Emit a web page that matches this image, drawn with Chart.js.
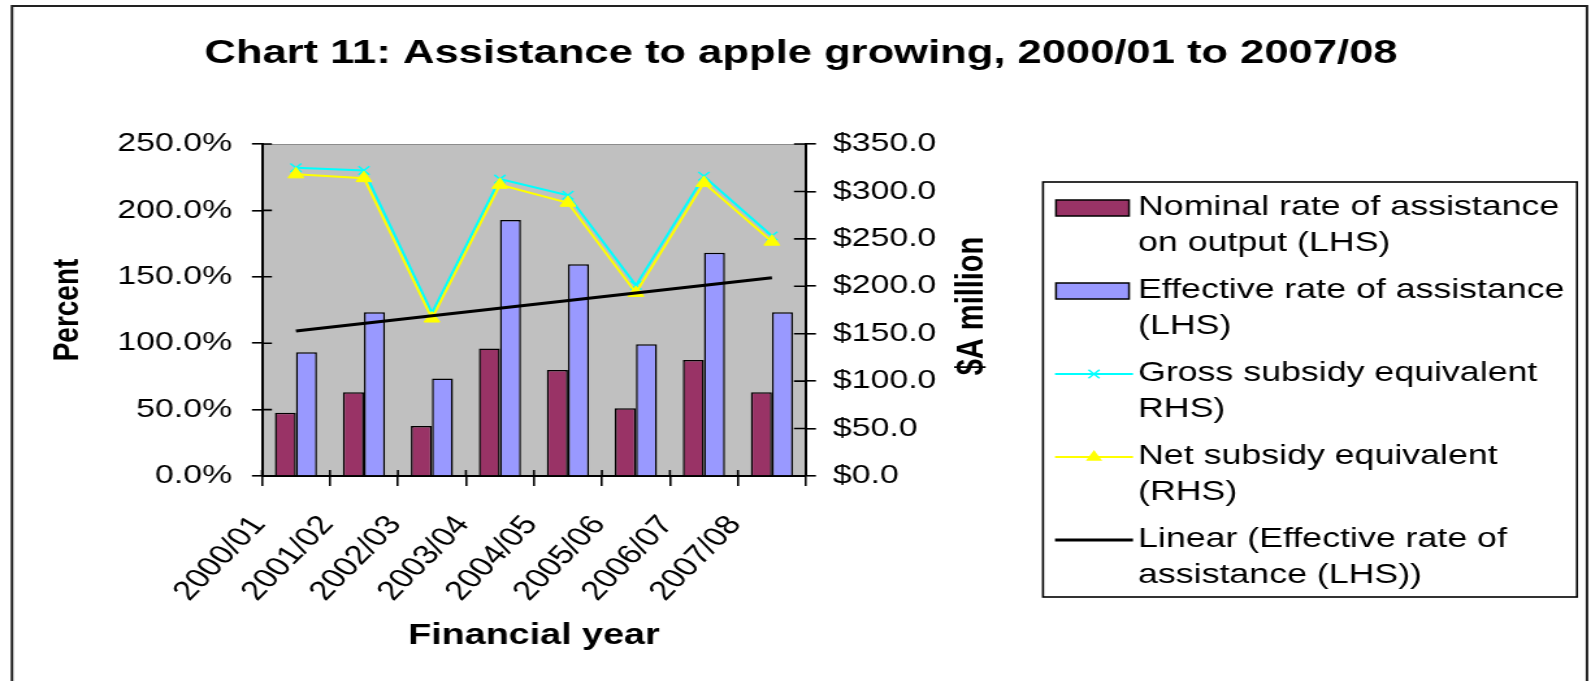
<!DOCTYPE html>
<html>
<head>
<meta charset="utf-8">
<title>Chart 11</title>
<script src="https://cdn.jsdelivr.net/npm/chart.js@4/dist/chart.umd.min.js"></script>
<style>
  body { margin: 0; background: #fff; overflow: hidden; }
  #wrap { width: 1224px; height: 681px; transform: scaleX(1.29984); transform-origin: 0 0; }
</style>
</head>
<body>
<div id="wrap"><canvas id="myChart" width="1224" height="681"></canvas></div>
<script>
const chartTitle = "Chart 11: Assistance to apple growing, 2000/01 to 2007/08";
const years = ["2000/01", "2001/02", "2002/03", "2003/04", "2004/05", "2005/06", "2006/07", "2007/08"];

// percent, left axis
const nominalRate = [47.7, 63.0, 37.6, 96.1, 79.8, 51.0, 87.3, 63.0];
const effectiveRate = [93.1, 123.3, 73.5, 192.8, 159.4, 99.2, 168.2, 123.3];
// $A million, right axis
const grossSubsidy = [325, 322, 172, 313, 296, 201, 316, 253];
const netSubsidy = [318, 314, 166, 307, 288, 193, 309, 247];
// ends of the linear trend of the effective rate
const trendStart = 109.2;
const trendEnd = 149.3;

const seriesNames = [
  "Nominal rate of assistance on output (LHS)",
  "Effective rate of assistance (LHS)",
  "Gross subsidy equivalent RHS)",
  "Net subsidy equivalent (RHS)",
  "Linear (Effective rate of assistance (LHS))",
];
const legendLines = [
  ["Nominal rate of assistance", "on output (LHS)"],
  ["Effective rate of assistance", "(LHS)"],
  ["Gross subsidy equivalent", "RHS)"],
  ["Net subsidy equivalent", "(RHS)"],
  ["Linear (Effective rate of", "assistance (LHS))"],
];

const FONT = "'Liberation Sans', Arial, Helvetica, sans-serif";
// the picture is stretched sideways, so everything is drawn narrower and scaled by css
const SX = 1591 / 1224;
const cx = (px) => px / SX;

Chart.defaults.font.family = FONT;
Chart.defaults.color = "#000";

const drawMarker = (ctx, style, x, y, color) => {
  ctx.save();
  ctx.strokeStyle = color;
  ctx.fillStyle = color;
  ctx.lineWidth = 1.5;
  if (style === "crossRot") {
    const r = 6;
    ctx.beginPath();
    ctx.moveTo(x - r * 0.7, y - r * 0.7);
    ctx.lineTo(x + r * 0.7, y + r * 0.7);
    ctx.moveTo(x - r * 0.7, y + r * 0.7);
    ctx.lineTo(x + r * 0.7, y - r * 0.7);
    ctx.stroke();
  } else if (style === "triangle") {
    const r = 7;
    ctx.beginPath();
    ctx.moveTo(x, y - r);
    ctx.lineTo(x + r * 0.9, y + r * 0.55);
    ctx.lineTo(x - r * 0.9, y + r * 0.55);
    ctx.closePath();
    ctx.fill();
  }
  ctx.restore();
};

const decorations = {
  id: "decorations",
  beforeDraw: (chart) => {
    const { ctx, chartArea: a } = chart;
    ctx.save();
    ctx.fillStyle = "#c0c0c0";
    ctx.fillRect(a.left, a.top, a.right - a.left, a.bottom - a.top);
    ctx.strokeStyle = "#8c8c8c";
    ctx.lineWidth = 1;
    ctx.beginPath();
    ctx.moveTo(a.left, a.top + 0.5);
    ctx.lineTo(a.right, a.top + 0.5);
    ctx.stroke();
    ctx.restore();
  },
  afterDraw: (chart) => {
    const { ctx, chartArea: a, scales } = chart;
    ctx.save();

    // inner halves of the tick marks
    ctx.strokeStyle = "#000";
    ctx.lineWidth = 1.6;
    ctx.beginPath();
    scales.y.ticks.forEach((t) => {
      const py = scales.y.getPixelForValue(t.value);
      ctx.moveTo(a.left, py);
      ctx.lineTo(a.left + 7.7, py);
    });
    scales.y1.ticks.forEach((t) => {
      const py = scales.y1.getPixelForValue(t.value);
      ctx.moveTo(a.right - 9.2, py);
      ctx.lineTo(a.right, py);
    });
    const step = scales.x.getPixelForValue(1) - scales.x.getPixelForValue(0);
    for (let i = 0; i <= years.length; i++) {
      const px = scales.x.getPixelForValue(0) - step / 2 + i * step;
      ctx.moveTo(px, a.bottom);
      ctx.lineTo(px, a.bottom - 6);
    }
    ctx.stroke();

    // title
    ctx.fillStyle = "#000";
    ctx.textAlign = "center";
    ctx.textBaseline = "middle";
    ctx.font = `bold 33.5px ${FONT}`;
    ctx.fillText(chartTitle, cx(801), 54);

    // right axis title, reading upwards
    ctx.save();
    ctx.translate(cx(972), 306);
    ctx.rotate(-Math.PI / 2);
    ctx.font = `bold 29px ${FONT}`;
    ctx.fillText("$A million", 0, 0);
    ctx.restore();

    // outer frame
    ctx.lineWidth = 2;
    ctx.strokeStyle = "#222";
    ctx.strokeRect(cx(12), 6, cx(1587) - cx(12), 700);

    // legend
    const boxL = cx(1043);
    const boxR = cx(1577);
    ctx.lineWidth = 1.6;
    ctx.strokeStyle = "#000";
    ctx.strokeRect(boxL, 182, boxR - boxL, 597 - 182);
    ctx.font = `27.5px ${FONT}`;
    ctx.textAlign = "left";
    chart.data.datasets.forEach((ds, i) => {
      const y0 = 207 + i * 83;
      if (ds.type === "bar") {
        ctx.fillStyle = ds.backgroundColor;
        ctx.fillRect(cx(1056), y0 - 7, cx(1129) - cx(1056), 16);
        ctx.lineWidth = 1.5;
        ctx.strokeStyle = "#000";
        ctx.strokeRect(cx(1056), y0 - 7, cx(1129) - cx(1056), 16);
      } else {
        ctx.strokeStyle = ds.borderColor;
        ctx.lineWidth = ds.borderWidth;
        ctx.beginPath();
        ctx.moveTo(cx(1055), y0 + 1);
        ctx.lineTo(cx(1133), y0 + 1);
        ctx.stroke();
        if (ds.pointRadius > 0) {
          drawMarker(ctx, ds.pointStyle, cx(1094), y0 + 1, ds.pointBorderColor);
        }
      }
      ctx.fillStyle = "#000";
      legendLines[i].forEach((line, j) => {
        ctx.fillText(line, cx(1138), y0 + j * 36);
      });
    });
    ctx.restore();
  },
};

const ctx = document.getElementById("myChart").getContext("2d");
const myChart = new Chart(ctx, {
  type: "bar",
  data: {
    labels: years,
    datasets: [
      {
        type: "bar",
        label: seriesNames[0],
        data: nominalRate,
        backgroundColor: "#993366",
        borderColor: "#000",
        borderWidth: 1.5,
        yAxisID: "y",
        order: 10,
      },
      {
        type: "bar",
        label: seriesNames[1],
        data: effectiveRate,
        backgroundColor: "#9999ff",
        borderColor: "#000",
        borderWidth: 1.5,
        yAxisID: "y",
        order: 10,
      },
      {
        type: "line",
        label: seriesNames[2],
        data: grossSubsidy,
        borderColor: "#00ffff",
        borderWidth: 2,
        pointStyle: "crossRot",
        pointRadius: 6,
        pointBorderWidth: 1.5,
        pointBorderColor: "#00ffff",
        pointBackgroundColor: "#00ffff",
        tension: 0,
        yAxisID: "y1",
        order: 3,
      },
      {
        type: "line",
        label: seriesNames[3],
        data: netSubsidy,
        borderColor: "#ffff00",
        borderWidth: 2,
        pointStyle: "triangle",
        pointRadius: 7,
        pointBorderWidth: 1,
        pointBorderColor: "#ffff00",
        pointBackgroundColor: "#ffff00",
        tension: 0,
        yAxisID: "y1",
        order: 2,
      },
      {
        type: "line",
        label: seriesNames[4],
        data: [
          { x: years[0], y: trendStart },
          { x: years[years.length - 1], y: trendEnd },
        ],
        borderColor: "#000",
        borderWidth: 3,
        pointRadius: 0,
        tension: 0,
        yAxisID: "y",
        order: 1,
      },
    ],
  },
  options: {
    responsive: false,
    animation: false,
    devicePixelRatio: 1,
    layout: {
      padding: { top: 144, left: 31.5, right: 455.7, bottom: 0 },
    },
    datasets: {
      bar: { categoryPercentage: 0.62, barPercentage: 1 },
    },
    plugins: {
      legend: { display: false },
      title: { display: false },
      tooltip: { enabled: false },
    },
    scales: {
      x: {
        offset: true,
        afterFit: (scale) => {
          scale.height = 205;
        },
        border: { color: "#000", width: 2 },
        grid: {
          offset: true,
          drawOnChartArea: false,
          color: "#000",
          lineWidth: 1.6,
          tickLength: 10,
        },
        ticks: {
          autoSkip: false,
          minRotation: 52.4,
          maxRotation: 52.4,
          labelOffset: -28.5,
          padding: 24,
          font: { size: 27 },
        },
        title: {
          display: true,
          text: "Financial year",
          font: { size: 29, weight: "bold" },
          padding: { top: 0, bottom: 28 },
        },
      },
      y: {
        position: "left",
        min: 0,
        max: 250,
        afterFit: (scale) => {
          scale.width = 170;
        },
        border: { color: "#000", width: 2 },
        grid: {
          drawOnChartArea: false,
          color: "#000",
          lineWidth: 1.6,
          tickLength: 7.7,
        },
        ticks: {
          stepSize: 50,
          padding: 15.3,
          font: { size: 26 },
          callback: (v) => v.toFixed(1) + "%",
        },
        title: {
          display: true,
          text: "Percent",
          font: { size: 28, weight: "bold" },
          padding: { top: 4, bottom: 0 },
        },
      },
      y1: {
        position: "right",
        min: 0,
        max: 350,
        afterFit: (scale) => {
          scale.width = 148.3;
        },
        border: { color: "#000", width: 2 },
        grid: {
          drawOnChartArea: false,
          color: "#000",
          lineWidth: 1.6,
          tickLength: 7.7,
        },
        ticks: {
          stepSize: 50,
          padding: 13.1,
          font: { size: 26 },
          callback: (v) => "$" + v.toFixed(1),
        },
      },
    },
  },
  plugins: [decorations],
});
</script>
</body>
</html>
